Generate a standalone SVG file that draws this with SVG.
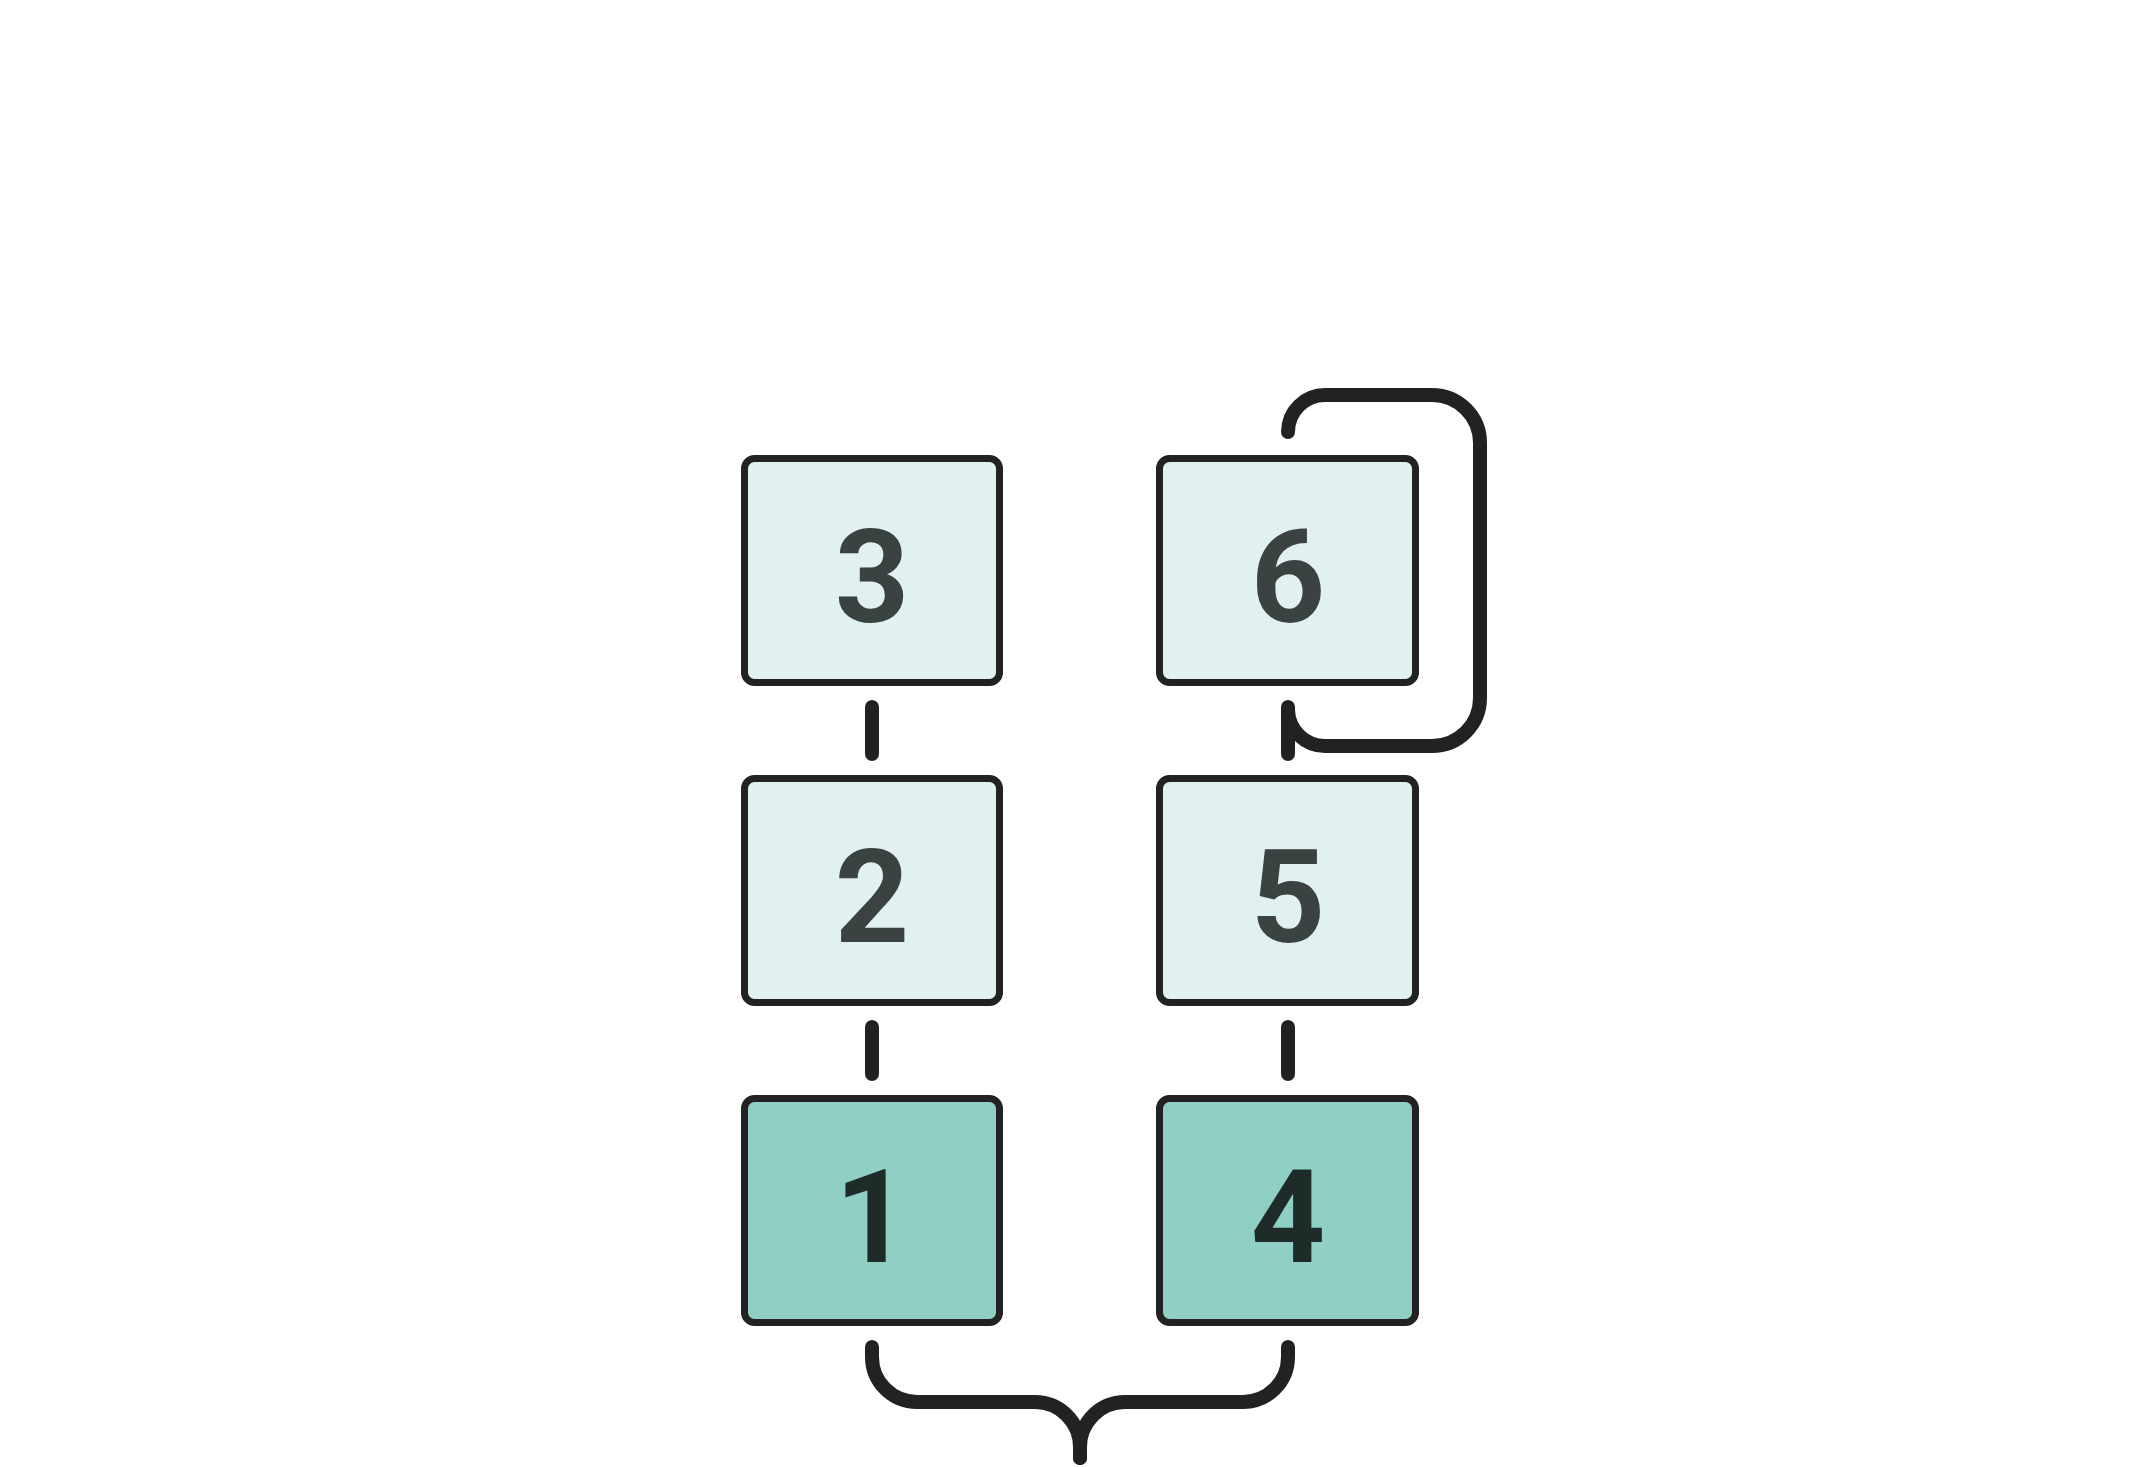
<svg xmlns="http://www.w3.org/2000/svg" width="2153" height="1467" viewBox="0 0 2153 1467">
<style>
.box{stroke:#222;stroke-width:7}
.light{fill:#e0f1ef}
.dark{fill:#90d0c4}
.lbl{font-family:Roboto,"Liberation Sans",sans-serif;font-weight:700;font-size:130px;text-anchor:middle}
.tl{fill:#3a4242}
.td{fill:#1f2b28}
.conn{fill:none;stroke:#222;stroke-width:14;stroke-linecap:round;stroke-linejoin:round}
</style>
<rect width="2153" height="1467" fill="#fff"/>
<g id="connectors">
<path class="conn" d="M872 707 L872 754"/>
<path class="conn" d="M872 1027 L872 1074"/>
<path class="conn" d="M1288 707 L1288 754"/>
<path class="conn" d="M1288 1027 L1288 1074"/>
<path class="conn" d="M1288 710 A37 37 0 0 0 1325 746 L1432 746 A48 48 0 0 0 1480 698 L1480 443 A48 48 0 0 0 1432 395 L1325 395 A37 37 0 0 0 1288 432"/>
<path class="conn" d="M872 1347 L872 1357 A45 45 0 0 0 917 1402 L1035 1402 A45 45 0 0 1 1080 1447 L1080 1458"/>
<path class="conn" d="M1288 1347 L1288 1357 A45 45 0 0 1 1243 1402 L1125 1402 A45 45 0 0 0 1080 1447 L1080 1458"/>
</g>
<g id="node3"><rect class="box light" x="744.5" y="458.5" width="255" height="224" rx="10"/><text class="lbl tl" x="872" y="621.5">3</text></g>
<g id="node2"><rect class="box light" x="744.5" y="778.5" width="255" height="224" rx="10"/><text class="lbl tl" x="872" y="941.5">2</text></g>
<g id="node1"><rect class="box dark" x="744.5" y="1098.5" width="255" height="224" rx="10"/><text class="lbl td" x="872" y="1261.5">1</text></g>
<g id="node6"><rect class="box light" x="1159.5" y="458.5" width="256" height="224" rx="10"/><text class="lbl tl" x="1288" y="621.5">6</text></g>
<g id="node5"><rect class="box light" x="1159.5" y="778.5" width="256" height="224" rx="10"/><text class="lbl tl" x="1288" y="941.5">5</text></g>
<g id="node4"><rect class="box dark" x="1159.5" y="1098.5" width="256" height="224" rx="10"/><text class="lbl td" x="1288" y="1261.5">4</text></g>
</svg>
